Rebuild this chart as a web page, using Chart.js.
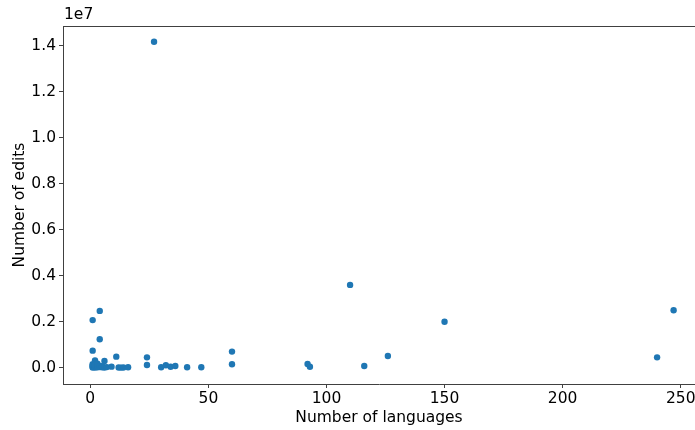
<!DOCTYPE html>
<html lang="en">
<head>
    <meta charset="UTF-8">
    <title>Number of edits vs number of languages</title>
    <script src="https://cdn.jsdelivr.net/npm/chart.js"></script>
    <style>
        html, body { margin: 0; padding: 0; background: #fff; }
        .wrap { width: 695px; height: 430px; position: relative; }
    </style>
</head>
<body>
    <div class="wrap"><canvas id="scatter"></canvas></div>
    <script>
        // Values
        const languages = [1, 4, 4, 1, 11, 6, 2,
            1, 1, 1, 1, 2, 2, 2, 2, 3, 3, 3, 4, 4, 5, 5, 6, 7, 9, 12, 13, 14, 16,
            24, 24, 30, 32, 34, 36, 41, 47, 60, 60,
            92, 93, 110, 116, 126, 150, 240, 247, 27];
        const edits = [2070000, 2470000, 1240000, 740000, 480000, 290000, 320000,
            10000, 40000, 100000, 150000, 5000, 60000, 200000, 120000, 20000, 90000, 170000, 30000, 80000, 15000, 60000, 10000, 25000, 45000, 8000, 5000, 10000, 20000,
            450000, 117000, 20000, 104000, 44000, 74000, 20000, 20000, 700000, 150000,
            160000, 44000, 3600000, 74000, 510000, 2000000, 450000, 2500000, 14170000];
        const xTicks = [0, 50, 100, 150, 200, 250];
        const yTicks = [0, 2e6, 4e6, 6e6, 8e6, 10e6, 12e6, 14e6];

        const points = languages.map((x, i) => ({ x: x, y: edits[i] }));
        const spine = '#404040';
        const font = { family: 'DejaVu Sans', size: 15.5 };

        // top spine and the offset text of the y axis
        const extras = {
            id: 'extras',
            afterDraw(chart) {
                const { ctx, chartArea } = chart;
                ctx.save();
                ctx.strokeStyle = spine;
                ctx.lineWidth = 1;
                ctx.beginPath();
                ctx.moveTo(chartArea.left, chartArea.top + 0.5);
                ctx.lineTo(chartArea.right, chartArea.top + 0.5);
                ctx.stroke();
                ctx.fillStyle = '#000';
                ctx.font = '15.5px "DejaVu Sans"';
                ctx.textBaseline = 'middle';
                ctx.fillText('1e7', chartArea.left + 1, 15);
                ctx.restore();
            }
        };

        Chart.defaults.color = '#000';
        Chart.defaults.font.family = 'DejaVu Sans';

        new Chart(document.getElementById('scatter'), {
            type: 'scatter',
            data: {
                datasets: [{
                    data: points,
                    backgroundColor: '#1f77b4',
                    borderWidth: 0,
                    pointRadius: 3.2
                }]
            },
            options: {
                responsive: true,
                maintainAspectRatio: false,
                animation: false,
                layout: { autoPadding: false, padding: { top: 26, right: 0, left: 0, bottom: 0 } },
                plugins: { legend: { display: false }, tooltip: { enabled: false } },
                scales: {
                    x: {
                        type: 'linear',
                        min: -11.56,
                        max: 256.05,
                        afterFit: s => { s.height = 46; s.paddingLeft = 0; s.paddingRight = 0; },
                        afterBuildTicks: s => { s.ticks = xTicks.map(v => ({ value: v })); },
                        grid: { display: true, drawOnChartArea: false, drawTicks: true, tickLength: 4, color: spine },
                        border: { color: spine, width: 1 },
                        ticks: { font: font, padding: 2, maxRotation: 0 },
                        title: { display: true, text: 'Number of languages', font: font, padding: { top: 0, bottom: 3 } }
                    },
                    y: {
                        type: 'linear',
                        min: -709000,
                        max: 14857000,
                        afterFit: s => { s.width = 63; s.paddingTop = 0; s.paddingBottom = 0; },
                        afterBuildTicks: s => { s.ticks = yTicks.map(v => ({ value: v })); },
                        grid: { display: true, drawOnChartArea: false, drawTicks: true, tickLength: 4, color: spine },
                        border: { color: spine, width: 1 },
                        ticks: { font: font, padding: 3, callback: v => (v / 1e7).toFixed(1) },
                        title: { display: true, text: 'Number of edits', font: font, padding: { top: 11, bottom: 0 } }
                    }
                }
            },
            plugins: [extras]
        });
    </script>
</body>
</html>
